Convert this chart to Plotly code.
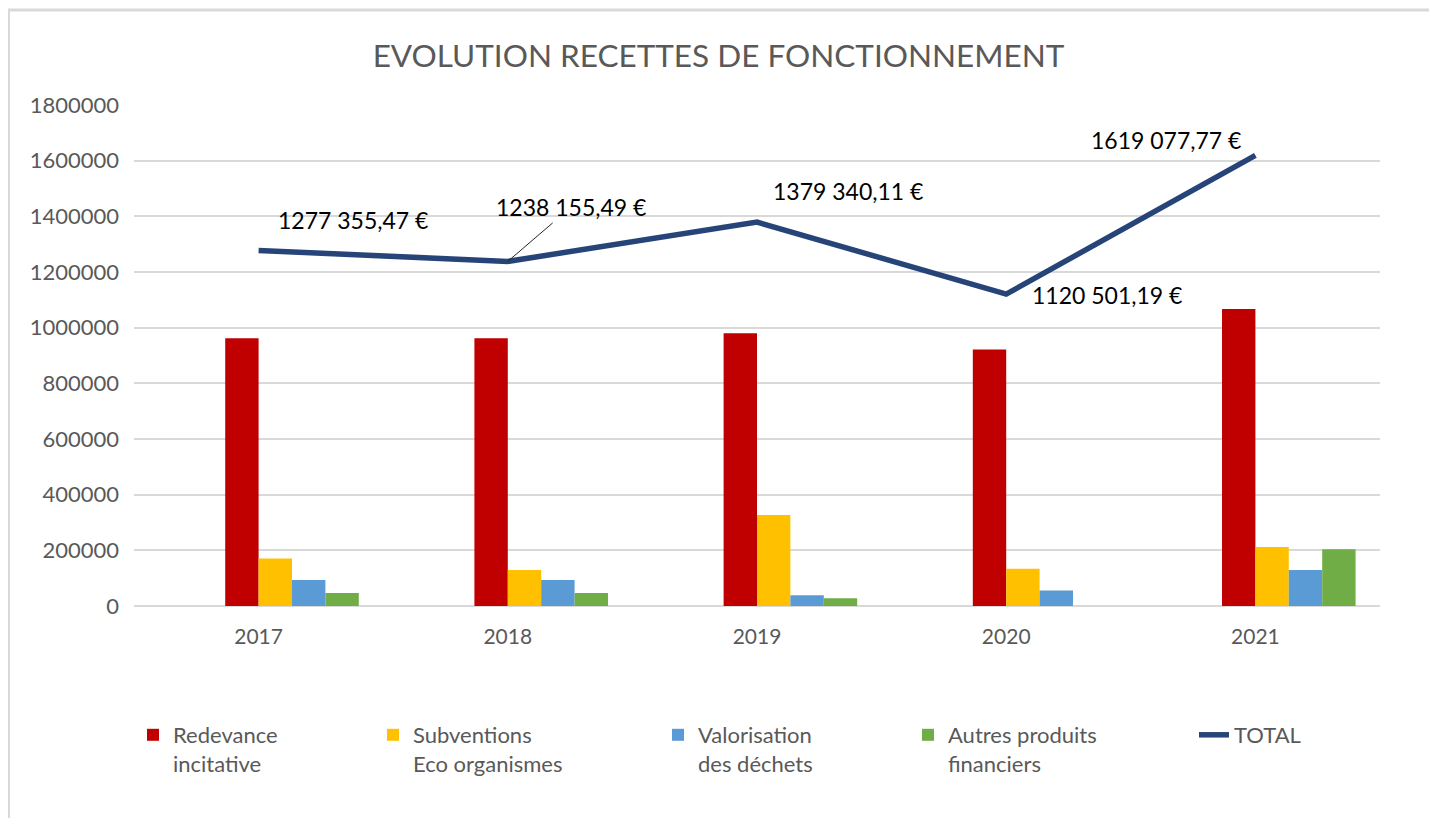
import plotly.graph_objects as go

years = ["2017", "2018", "2019", "2020", "2021"]
redevance = [962000, 962000, 980000, 922000, 1067000]
subventions = [171000, 129000, 327000, 134000, 212000]
valorisation = [93400, 93000, 38500, 56000, 129000]
autres = [46700, 47000, 27500, 0, 204000]
total = [1277355.47, 1238155.49, 1379340.11, 1120501.19, 1619077.77]
total_labels = ["1277 355,47 €", "1238 155,49 €", "1379 340,11 €", "1120 501,19 €", "1619 077,77 €"]

OFF = 8
W, H = 1429, 810
L, R, T, B = 126, 57, 97, 212
pw, ph = W - L - R, H - T - B

def px_x(p):
    return (p - OFF - L) / pw

def px_y(p):
    return (H - B - (p - OFF)) / ph

FONT = "Lato"
GRAY = "#595959"

fig = go.Figure()
bar_w = 0.134
series = [
    ("Redevance<br>incitative", redevance, "#C00000", -1),
    ("Subventions<br>Eco organismes", subventions, "#FFC000", 0),
    ("Valorisation<br>des déchets", valorisation, "#5B9BD5", 1),
    ("Autres produits<br>financiers", autres, "#70AD47", 2),
]
legends = ["legend", "legend2", "legend3", "legend4"]
for (name, vals, col, k), lg in zip(series, legends):
    fig.add_trace(go.Bar(x=years, y=vals, name=name, marker_color=col,
                         marker_line_width=0, width=bar_w, offset=k * bar_w,
                         legend=lg))

fig.add_trace(go.Scatter(x=years, y=total, name="TOTAL", mode="lines",
                         line=dict(color="#264478", width=5.5), legend="legend5"))

text_starts = [175, 415, 700, 950, 1236]
legend_common = dict(orientation="v", yanchor="top", xanchor="left",
                     bgcolor="rgba(0,0,0,0)", valign="top", tracegroupgap=0,
                     font=dict(family=FONT, size=22, color=GRAY))
layout_legends = {}
for i, ts in enumerate(text_starts):
    key = "legend" if i == 0 else f"legend{i+1}"
    layout_legends[key] = dict(legend_common, x=px_x(ts - 42), y=px_y(714))

fig.update_layout(
    width=W, height=H,
    margin=dict(l=L, r=R, t=T, b=B),
    paper_bgcolor="white", plot_bgcolor="white",
    barmode="overlay",
    title=dict(text="EVOLUTION RECETTES DE FONCTIONNEMENT", x=(718.5 - OFF) / W,
               xanchor="center", xref="container", y=1 - (56 - OFF) / H,
               yanchor="middle", yref="container",
               font=dict(family=FONT, size=31.5, color=GRAY)),
    xaxis=dict(type="category", showgrid=False, showline=False, zeroline=False,
               ticks="", tickfont=dict(family=FONT, size=21, color=GRAY),
               range=[-0.5, 4.5], ticklabelstandoff=16),
    yaxis=dict(range=[0, 1800000], dtick=200000, showgrid=True, gridcolor="#D9D9D9",
               gridwidth=2, zeroline=True, zerolinecolor="#D9D9D9", zerolinewidth=2,
               showline=False, ticks="", tickformat="d",
               tickfont=dict(family=FONT, size=22, color=GRAY), ticklabelstandoff=14),
    showlegend=True,
    **layout_legends,
)

fig.add_shape(type="rect", xref="paper", yref="paper",
              x0=px_x(8.5), x1=px_x(1434), y0=px_y(10), y1=px_y(840),
              line=dict(color="#D9D9D9", width=3), fillcolor="rgba(0,0,0,0)", layer="below")

# data labels (pixel offsets from the data point), x given as category index
offsets = [(94, -30, False), (63, -54, True), (91, -31, False), (101, 1, False), (-89, -15, False)]
for i, (v, lab, (dx, dy, arrow)) in enumerate(zip(total, total_labels, offsets)):
    if arrow:
        fig.add_annotation(xref="x", yref="y", x=i, y=v, text=lab,
                           showarrow=True, ax=dx, ay=dy,
                           arrowhead=0, arrowwidth=1, arrowcolor="#262626", standoff=0,
                           font=dict(family=FONT, size=23, color="black"))
    else:
        fig.add_annotation(xref="x", yref="y", x=i, y=v, text=lab,
                           showarrow=False, xshift=dx, yshift=-dy,
                           font=dict(family=FONT, size=23, color="black"))

fig.write_html("out.html")
